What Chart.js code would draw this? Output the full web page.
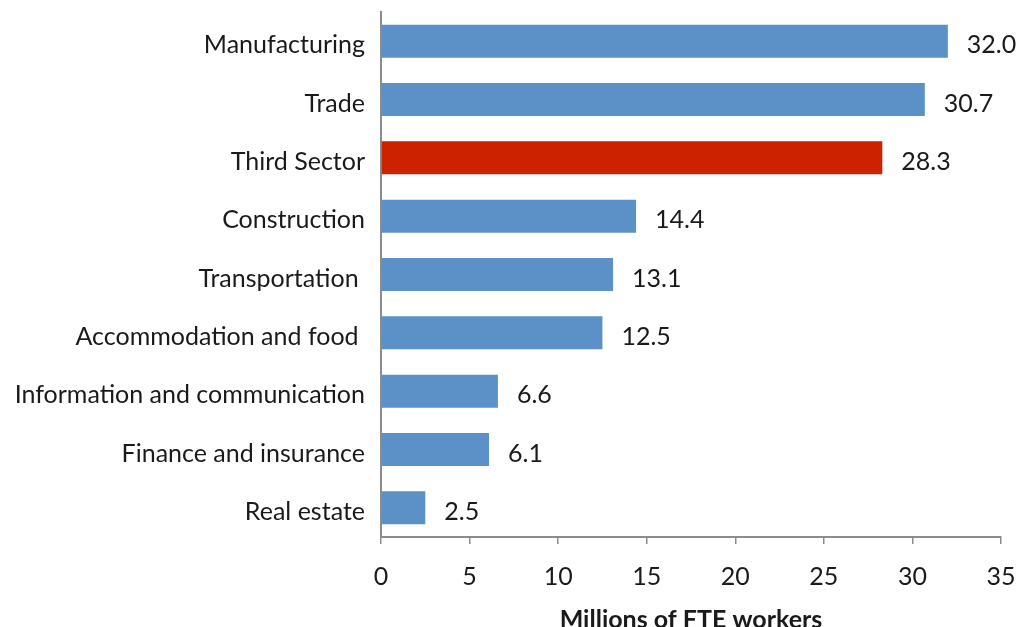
<!DOCTYPE html>
<html>
<head>
<meta charset="utf-8">
<script src="https://cdn.jsdelivr.net/npm/chart.js@4/dist/chart.umd.min.js"></script>
<style>
  html, body { margin: 0; padding: 0; background: #fff; }
  #chart { display: block; }
</style>
</head>
<body>
<canvas id="chart" width="1019" height="627"></canvas>
<script>
const sectors = [
    "Manufacturing",
    "Trade",
    "Third Sector",
    "Construction",
    "Transportation ",
    "Accommodation and food ",
    "Information and communication",
    "Finance and insurance",
    "Real estate"
];
const workers = [32.0, 30.7, 28.3, 14.4, 13.1, 12.5, 6.6, 6.1, 2.5];
const highlighted = "Third Sector";

const blue = "#5b91c7";
const red = "#cc2200";
const textColor = "#1a1a1a";
const axisColor = "#8c8c8c";
const fontFamily = "Lato, 'Open Sans', sans-serif";

// value labels just past the end of each bar
const valueLabels = {
    id: "valueLabels",
    afterDatasetsDraw(chart) {
        const { ctx } = chart;
        const meta = chart.getDatasetMeta(0);
        ctx.save();
        ctx.font = "25px " + fontFamily;
        ctx.fillStyle = textColor;
        ctx.textAlign = "left";
        ctx.textBaseline = "middle";
        meta.data.forEach((bar, i) => {
            ctx.fillText(workers[i].toFixed(1), bar.x + 19, bar.y + 4);
        });
        ctx.restore();
    }
};

const config = {
    type: "bar",
    data: {
        labels: sectors,
        datasets: [
            {
                data: workers,
                backgroundColor: sectors.map((s) => (s === highlighted ? red : blue)),
                borderWidth: 0,
                categoryPercentage: 1,
                barPercentage: 0.565
            }
        ]
    },
    options: {
        indexAxis: "y",
        responsive: false,
        animation: false,
        layout: {
            padding: { top: 12, right: 18, bottom: 0, left: 0 }
        },
        plugins: {
            legend: { display: false },
            tooltip: { enabled: false }
        },
        scales: {
            x: {
                min: 0,
                max: 35,
                ticks: {
                    stepSize: 5,
                    color: textColor,
                    padding: 18,
                    font: { family: fontFamily, size: 25 }
                },
                grid: {
                    drawOnChartArea: false,
                    drawTicks: true,
                    tickLength: 7,
                    color: axisColor,
                    lineWidth: 1.5
                },
                border: { color: axisColor, width: 2 },
                title: {
                    display: true,
                    text: "Millions of FTE workers",
                    color: textColor,
                    padding: { top: 0, bottom: -8 },
                    font: { family: fontFamily, size: 25, weight: "bold" }
                },
                afterFit(scale) {
                    scale.height = 90;
                    scale.paddingLeft = 0;
                    scale.paddingRight = 0;
                }
            },
            y: {
                ticks: {
                    color: textColor,
                    padding: 16,
                    labelOffset: 4,
                    font: { family: fontFamily, size: 25 }
                },
                grid: { display: false, drawTicks: false },
                border: { color: axisColor, width: 2 },
                afterFit(scale) {
                    scale.width = 381;
                    scale.paddingTop = 0;
                    scale.paddingBottom = 0;
                }
            }
        }
    },
    plugins: [valueLabels]
};

new Chart(document.getElementById("chart"), config);
</script>
</body>
</html>
